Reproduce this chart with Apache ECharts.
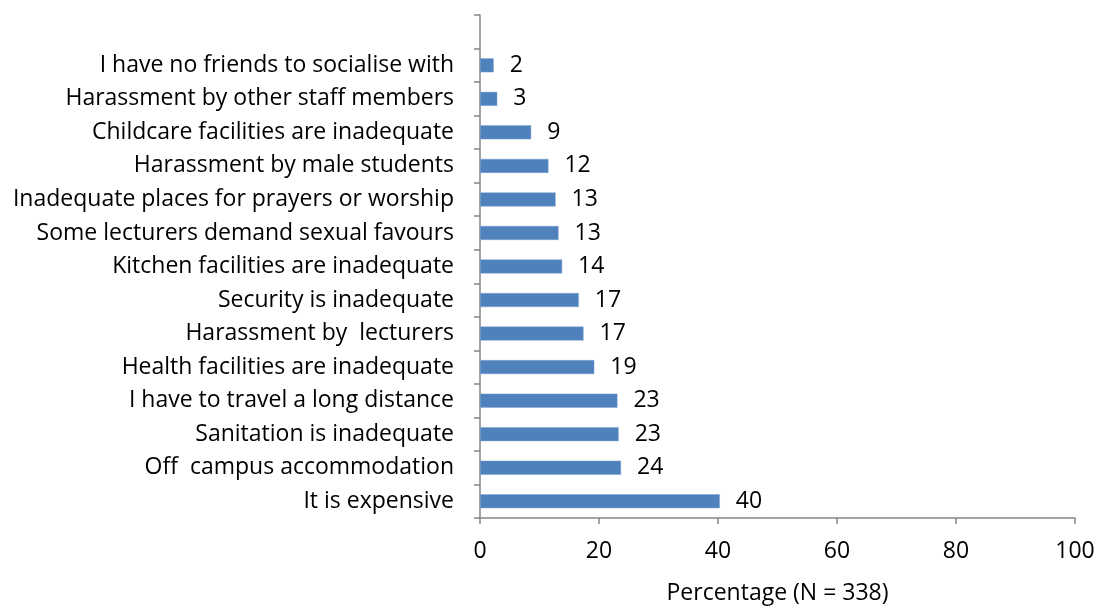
<!DOCTYPE html>
<html>
<head>
<meta charset="utf-8">
<script src="https://cdn.jsdelivr.net/npm/echarts@6/dist/echarts.min.js"></script>
<style>html,body{margin:0;padding:0;background:#fff;}#c{width:1097px;height:606px;}</style>
</head>
<body>
<div id="c"></div>
<script>
// bottom to top; top slot is empty in the original
const categories = [
  "It is expensive",
  "Off  campus accommodation",
  "Sanitation is inadequate",
  "I have to travel a long distance",
  "Health facilities are inadequate",
  "Harassment by  lecturers",
  "Security is inadequate",
  "Kitchen facilities are inadequate",
  "Some lecturers demand sexual favours",
  "Inadequate places for prayers or worship",
  "Harassment by male students",
  "Childcare facilities are inadequate",
  "Harassment by other staff members",
  "I have no friends to socialise with",
  ""
];
const values = [40.3, 23.7, 23.3, 23.1, 19.2, 17.4, 16.6, 13.8, 13.2, 12.7, 11.5, 8.6, 2.9, 2.3, null];
const xTicks = [0, 20, 40, 60, 80, 100];
const xName = "Percentage (N = 338)";

const FONT = "Open Sans";
const FS = 23;
const chart = echarts.init(document.getElementById('c'), null, {renderer: 'canvas'});
chart.setOption({
  animation: false,
  backgroundColor: '#fff',
  grid: {left: 480, right: 22, top: 15, bottom: 88, containLabel: false, outerBoundsMode: 'none'},
  xAxis: {
    type: 'value', min: xTicks[0], max: xTicks[xTicks.length - 1], interval: 20,
    name: xName, nameLocation: 'middle', nameGap: 64,
    nameTextStyle: {fontFamily: FONT, fontSize: FS, color: '#000'},
    axisLine: {show: true, lineStyle: {color: '#868686', width: 1.5}},
    axisTick: {show: true, length: 6, lineStyle: {color: '#868686', width: 1.5}},
    axisLabel: {fontFamily: FONT, fontSize: FS, color: '#000', margin: 22},
    splitLine: {show: false}
  },
  yAxis: {
    type: 'category', data: categories, boundaryGap: true,
    axisLine: {show: true, lineStyle: {color: '#868686', width: 1.5}},
    axisTick: {show: true, length: 6, inside: false, lineStyle: {color: '#868686', width: 1.5}},
    axisLabel: {fontFamily: FONT, fontSize: FS, color: '#000', margin: 26, interval: 0, padding: [2, 0, 0, 0]}
  },
  series: [{
    type: 'bar', data: values, barWidth: 14,
    itemStyle: {color: '#4F81BD', borderColor: '#7EA3D3', borderWidth: 0.5},
    label: {
      show: true, position: 'right', distance: 16, padding: [4, 0, 0, 0],
      fontFamily: FONT, fontSize: FS, color: '#000',
      formatter: p => p.value == null ? '' : String(Math.round(p.value))
    }
  }]
});
</script>
</body>
</html>
